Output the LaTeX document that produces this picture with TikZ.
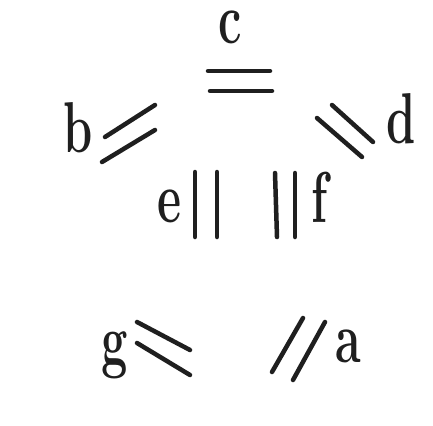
\documentclass[tikz,border=0pt]{standalone}
\begin{document}
\begin{tikzpicture}[x=1pt,y=-1pt,
  lett/.style={anchor=base,inner sep=0pt,text=black!88,font=\fontsize{72}{80}\selectfont\bfseries},
  strokemark/.style={draw=black!88,line width=4.5pt,line cap=round}]
\useasboundingbox[fill=white] (0,0) rectangle (433,425);
% marks
\draw[strokemark] (208,71) -- (270,71);
\draw[strokemark] (210,91) -- (272,91);
\draw[strokemark] (105,137) -- (155,105);
\draw[strokemark] (102,162) -- (155,130);
\draw[strokemark] (332,105) -- (373,142);
\draw[strokemark] (317,118) -- (362,157);
\draw[strokemark] (195,172) -- (195,237);
\draw[strokemark] (217,172) -- (217,237);
\draw[strokemark] (275,173) -- (277,237);
\draw[strokemark] (295,173) -- (295,237);
\draw[strokemark] (137,322) -- (190,350);
\draw[strokemark] (137,343) -- (190,375);
\draw[strokemark] (303,318) -- (272,372);
\draw[strokemark] (325,322) -- (293,380);
% letters
\node[lett,text height=34pt] (c) at (230,44) {\scalebox{0.65}[1]{c}};
\node[lett] (b) at (78,152) {\scalebox{0.65}[1]{b}};
\node[lett] (d) at (401,143) {\scalebox{0.65}[1]{d}};
\node[lett] (e) at (170,222) {\scalebox{0.65}[1]{e}};
\node[lett] (f) at (320,222) {\scalebox{0.65}[1]{f}};
\node[lett] (g) at (115,364) {\scalebox{0.65}[1]{g}};
\node[lett] (a) at (348,362) {\scalebox{0.65}[1]{a}};
\end{tikzpicture}
\end{document}
